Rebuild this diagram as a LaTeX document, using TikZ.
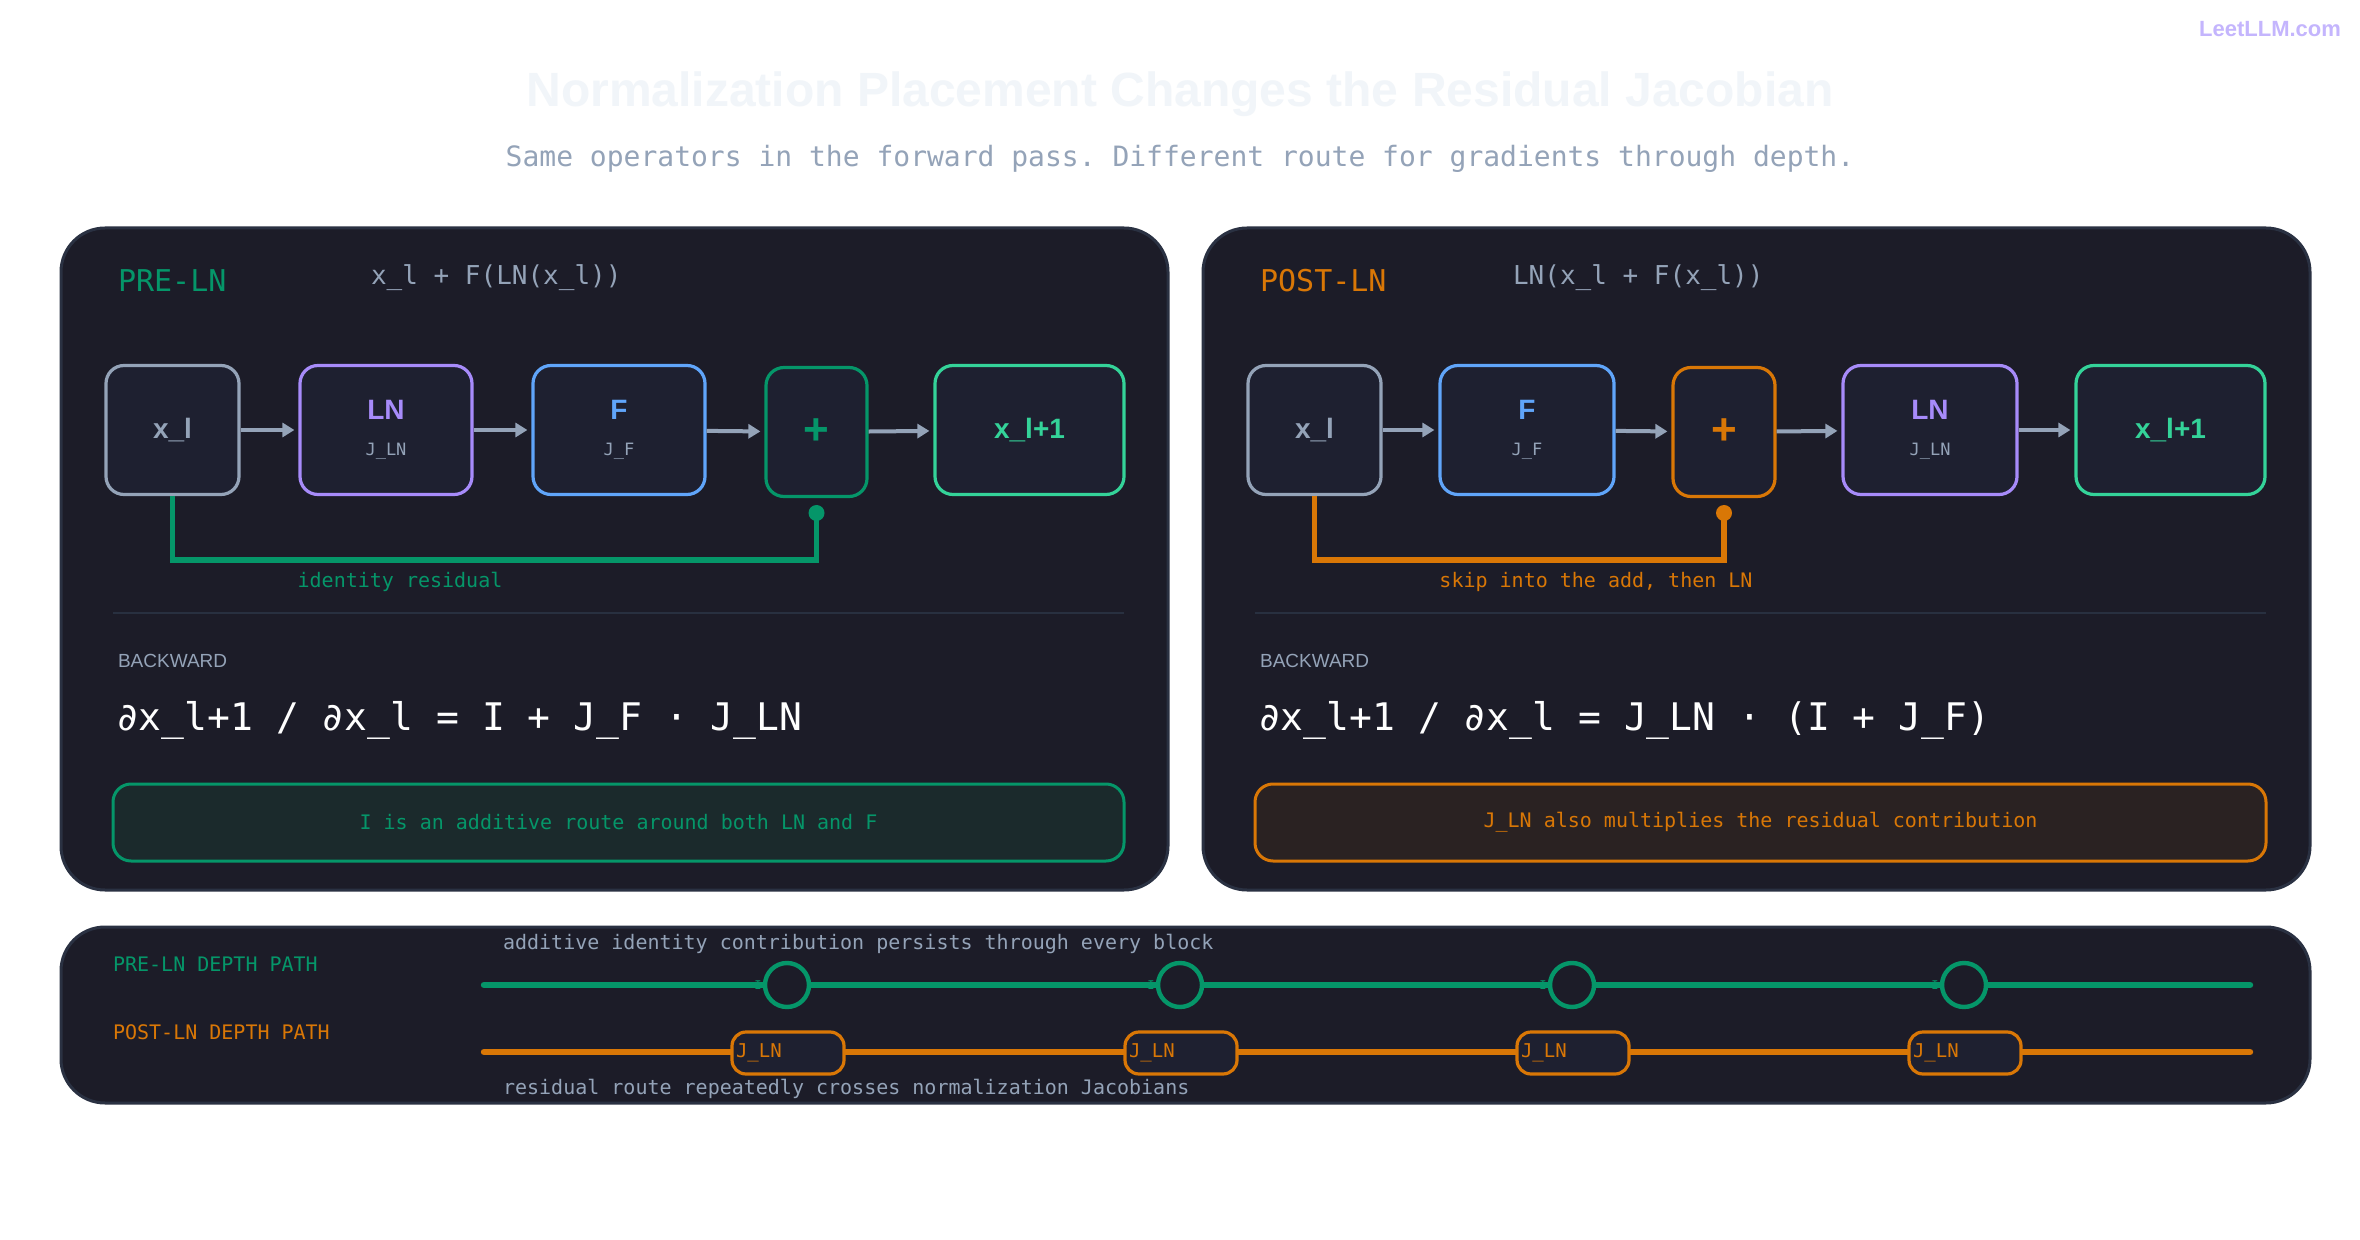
\documentclass[tikz,border=0pt]{standalone}
\usepackage{fontspec}
\setmainfont{Liberation Sans}
\setsansfont{Liberation Sans}
\setmonofont{DejaVu Sans Mono}
\usetikzlibrary{arrows.meta}
\definecolor{panel}{HTML}{1C1C28}
\definecolor{pborder}{HTML}{2A3142}
\definecolor{boxfill}{HTML}{1E2030}
\definecolor{gry}{HTML}{94A3B8}
\definecolor{purp}{HTML}{A78BFA}
\definecolor{blu}{HTML}{60A5FA}
\definecolor{grn}{HTML}{059669}
\definecolor{lgrn}{HTML}{34D399}
\definecolor{org}{HTML}{D97706}
\definecolor{ttl}{HTML}{F1F5F9}
\definecolor{logo}{HTML}{C4B5FD}
\definecolor{notegrn}{HTML}{1B2A2C}
\definecolor{noteorg}{HTML}{2A2222}
\definecolor{divc}{HTML}{283040}
\tikzset{
  pnl/.style={draw=pborder,line width=1.5pt,fill=panel,rounded corners=22pt},
  box/.style={draw=#1,line width=1.6pt,fill=boxfill,rounded corners=9pt,minimum height=64.5pt,inner sep=0pt,align=center,font=\sffamily\bfseries\fontsize{14}{16}\selectfont},
  sub/.style={font=\ttfamily\fontsize{8.5}{10}\selectfont,text=gry},
  arr/.style={draw=gry,line width=2pt,-{Triangle[length=6pt,width=7pt]},shorten >=2pt},
  res/.style={line width=2.6pt,draw=#1},
  mono/.style={font=\ttfamily\fontsize{#1}{#1}\selectfont},
  ring/.style={circle,draw=grn,line width=2.2pt,fill=panel,minimum size=22pt,inner sep=0pt},
  jln/.style={draw=org,line width=1.6pt,fill=boxfill,rounded corners=7pt,minimum width=56pt,minimum height=21pt,inner sep=1pt,font=\ttfamily\fontsize{9.5}{10}\selectfont,text=org,text width=52pt,align=left},
}
\begin{document}
\begin{tikzpicture}[x=0.5pt,y=-0.5pt]
\useasboundingbox[fill=white] (0,0) rectangle (2360,1240);
% header
\node[font=\sffamily\bfseries\fontsize{24}{26}\selectfont,text=ttl] (title) at (1180,94) {Normalization Placement Changes the Residual Jacobian};
\node[mono=14,text=gry] (subt) at (1180,159) {Same operators in the forward pass. Different route for gradients through depth.};
\node[font=\sffamily\bfseries\fontsize{11}{12}\selectfont,text=logo,anchor=east] (logo) at (2348,29) {LeetLLM.com};
% panels
\draw[pnl] (61,228) rectangle (1168,890);
\draw[pnl] (1203,228) rectangle (2310,890);
\draw[pnl] (61,927) rectangle (2310,1103);
% ===== LEFT =====
\node[mono=15,text=grn,anchor=west] (preT) at (111,281) {PRE-LN};
\node[mono=13,text=gry,anchor=west] (preF) at (364,278) {x\_l + F(LN(x\_l))};
\node[box=gry,minimum width=66.5pt,text=gry] (a1) at (172.5,430) {x\_l};
\node[box=purp,minimum width=86pt] (a2) at (386,430) {\textcolor{purp}{LN}\\[2pt]\textcolor{gry}{\ttfamily\mdseries\fontsize{8.5}{10}\selectfont J\_LN}};
\node[box=blu,minimum width=86pt] (a3) at (619,430) {\textcolor{blu}{F}\\[2pt]\textcolor{gry}{\ttfamily\mdseries\fontsize{8.5}{10}\selectfont J\_F}};
\node[box=grn,minimum width=50.5pt,text=grn,font=\sffamily\bfseries\fontsize{22}{22}\selectfont] (a4) at (816.5,432) {+};
\node[box=lgrn,minimum width=94.5pt,text=lgrn] (a5) at (1029.5,430) {x\_l+1};
\draw[arr] (a1) -- (a2);
\draw[arr] (a2) -- (a3);
\draw[arr] (a3) -- (a4);
\draw[arr] (a4) -- (a5);
\coordinate (ad) at (816.5,513);
\draw[res=grn] (a1.south) |- (816.5,560) -- (ad);
\fill[grn] (ad) circle (4pt);
\node[mono=10,text=grn] (preR) at (400,582) {identity residual};
\draw[divc,line width=1pt] (113,613) -- (1124,613);
\node[font=\sffamily\fontsize{9.5}{10}\selectfont,text=gry,anchor=west] (bk1) at (111,661) {BACKWARD};
\node[mono=19,text=white,anchor=west] (eq1) at (109,720) {∂x\_l+1 / ∂x\_l = I + J\_F · J\_LN};
\node[draw=grn,line width=1.5pt,fill=notegrn,rounded corners=9pt,minimum width=505.5pt,minimum height=38.5pt,mono=10,text=grn] (n1) at (618.5,822.5) {I is an additive route around both LN and F};
% ===== RIGHT =====
\node[mono=15,text=org,anchor=west] (postT) at (1253,281) {POST-LN};
\node[mono=13,text=gry,anchor=west] (postF) at (1506,278) {LN(x\_l + F(x\_l))};
\node[box=gry,minimum width=66.5pt,text=gry] (b1) at (1314.5,430) {x\_l};
\node[box=blu,minimum width=87pt] (b2) at (1527,430) {\textcolor{blu}{F}\\[2pt]\textcolor{gry}{\ttfamily\mdseries\fontsize{8.5}{10}\selectfont J\_F}};
\node[box=org,minimum width=51pt,text=org,font=\sffamily\bfseries\fontsize{22}{22}\selectfont] (b3) at (1724,432) {+};
\node[box=purp,minimum width=87pt] (b4) at (1930,430) {\textcolor{purp}{LN}\\[2pt]\textcolor{gry}{\ttfamily\mdseries\fontsize{8.5}{10}\selectfont J\_LN}};
\node[box=lgrn,minimum width=94.5pt,text=lgrn] (b5) at (2170.5,430) {x\_l+1};
\draw[arr] (b1) -- (b2);
\draw[arr] (b2) -- (b3);
\draw[arr] (b3) -- (b4);
\draw[arr] (b4) -- (b5);
\coordinate (bd) at (1724,513);
\draw[res=org] (b1.south) |- (1724,560) -- (bd);
\fill[org] (bd) circle (4pt);
\node[mono=10,text=org] (postR) at (1596,582) {skip into the add, then LN};
\draw[divc,line width=1pt] (1255,613) -- (2266,613);
\node[font=\sffamily\fontsize{9.5}{10}\selectfont,text=gry,anchor=west] (bk2) at (1253,661) {BACKWARD};
\node[mono=19,text=white,anchor=west] (eq2) at (1251,720) {∂x\_l+1 / ∂x\_l = J\_LN · (I + J\_F)};
\node[draw=org,line width=1.5pt,fill=noteorg,rounded corners=9pt,minimum width=505.5pt,minimum height=38.5pt,mono=10,text=org] (n2) at (1760.5,822.5) {J\_LN also multiplies the residual contribution};
% ===== BOTTOM =====
\node[mono=10,text=grn,anchor=west] (dp1) at (106,964) {PRE-LN DEPTH PATH};
\node[mono=10,text=org,anchor=west] (dp2) at (106,1032) {POST-LN DEPTH PATH};
\node[mono=10,text=gry,anchor=west] (dt1) at (496,944) {additive identity contribution persists through every block};
\node[mono=10,text=gry,anchor=west] (dt2) at (496,1089) {residual route repeatedly crosses normalization Jacobians};
\coordinate (g0) at (484,985); \coordinate (g1) at (2250,985);
\coordinate (o0) at (484,1052); \coordinate (o1) at (2250,1052);
\draw[grn,line width=3.2pt,line cap=round] (g0) -- (g1);
\draw[org,line width=3.2pt,line cap=round] (o0) -- (o1);
\foreach \i/\x in {1/787,2/1180,3/1572,4/1964}{
  \node[ring] (r\i) at (\x,985) {};
  \node[font=\ttfamily\fontsize{6}{6}\selectfont,text=grn] (ri\i) at (\x-29,985) {I};
  \node[jln] (j\i) at (\x+1,1053) {J\_LN};
}
\end{tikzpicture}
\end{document}
